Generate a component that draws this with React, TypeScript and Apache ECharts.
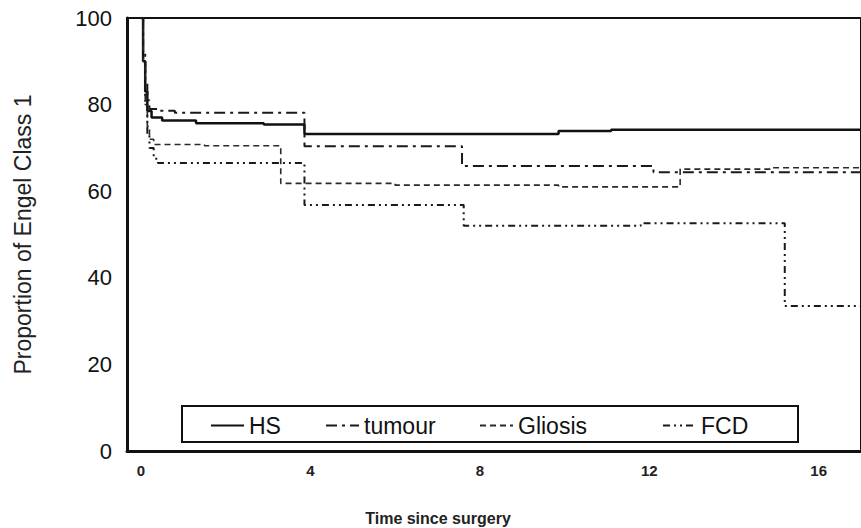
import React, { useEffect, useRef } from "react";
import * as echarts from "echarts";

const xTicks = [0, 4, 8, 12, 16];
const seriesNames = ["HS", "tumour", "Gliosis", "FCD"];

// Kaplan-Meier style step data: [time, proportion]
const hsData: [number, number][] = [
  [0, 100], [0.05, 90], [0.1, 83], [0.15, 78.5], [0.25, 77], [0.5, 76.3],
  [1.3, 75.7], [2.9, 75.4], [3.86, 73.2], [9.86, 73.9], [11.1, 74.2], [17, 74.2],
];
const tumourData: [number, number][] = [
  [0, 100], [0.05, 92], [0.1, 85], [0.15, 81], [0.2, 79], [0.4, 78.6],
  [0.8, 78.1], [3.86, 70.4], [7.58, 65.8], [12.1, 64.4], [17, 64.3],
];
const gliosisData: [number, number][] = [
  [0, 100], [0.05, 90], [0.1, 80], [0.15, 75], [0.2, 72], [0.3, 70.8],
  [1.5, 70.5], [3.3, 61.8], [6, 61.4], [9.86, 61.0], [12.73, 65.1], [14.9, 65.4], [17, 65.4],
];
const fcdData: [number, number][] = [
  [0, 100], [0.05, 90], [0.1, 80], [0.15, 73], [0.2, 70], [0.3, 67.5],
  [0.4, 66.5], [3.86, 56.8], [7.62, 52.0], [11.8, 52.6], [15.2, 33.5], [17, 33.5],
];

const FONT = "'Liberation Sans', Arial, sans-serif";

export default function App() {
  const ref = useRef<HTMLDivElement>(null);
  useEffect(() => {
    if (!ref.current) return;
    const chart = echarts.init(ref.current, undefined, { renderer: "svg" });
    const styles = [
      { color: "#111", width: 2.5, type: "solid" as any },
      { color: "#1a1a1a", width: 2, type: [11, 5, 3, 5] },
      { color: "#2a2a2a", width: 1.6, type: [6, 4] },
      { color: "#1a1a1a", width: 2, type: [7, 4, 2, 4, 2, 4] },
    ];
    const datas = [hsData, tumourData, gliosisData, fcdData];
    const legendLefts = [205, 320, 474, 657];
    chart.setOption({
      animation: false,
      backgroundColor: "#fff",
      textStyle: { fontFamily: FONT },
      grid: {
        left: 127, top: 18, bottom: 77, right: -3,
        show: true, borderColor: "#111", borderWidth: 2, backgroundColor: "#fff",
      },
      xAxis: {
        type: "value", min: -0.33, max: 17,
        axisLine: { show: true, lineStyle: { color: "#111", width: 3 } },
        axisTick: { show: false },
        splitLine: { show: false },
        axisLabel: {
          customValues: xTicks,
          fontSize: 15, fontWeight: "bold", color: "#222", margin: 12, fontFamily: FONT,
        },
      },
      yAxis: {
        type: "value", min: 0, max: 100, interval: 20,
        name: "Proportion of Engel Class 1",
        nameLocation: "middle", nameGap: 93, nameRotate: 90,
        nameTextStyle: { fontSize: 23, color: "#222", fontFamily: FONT },
        axisLine: { show: true, onZero: false, lineStyle: { color: "#111", width: 3 } },
        axisTick: { show: false },
        splitLine: { show: false },
        axisLabel: { fontSize: 22, color: "#111", margin: 15, fontFamily: FONT },
      },
      legend: seriesNames.map((n, i) => ({
        data: [n],
        left: legendLefts[i], top: 409,
        itemWidth: 33, itemHeight: 12, z: 10,
        itemStyle: { opacity: 0 },
        textStyle: { fontSize: 23, color: "#111", fontFamily: FONT },
      })),
      graphic: [
        {
          type: "rect", left: 181, top: 405, z: 5,
          shape: { width: 616, height: 36 },
          style: { fill: "#fff", stroke: "#111", lineWidth: 2 },
        },
        {
          type: "text", x: 438, y: 518, z: 5,
          style: {
            text: "Time since surgery", fontSize: 16, fontWeight: "bold",
            fill: "#222", align: "center", verticalAlign: "middle", fontFamily: FONT,
          },
        },
      ],
      series: seriesNames.map((n, i) => ({
        name: n, type: "line", step: "end", symbol: "none",
        data: datas[i],
        lineStyle: styles[i],
        itemStyle: { color: styles[i].color },
        z: 3,
      })),
    });
    return () => chart.dispose();
  }, []);
  return (
    <div
      ref={ref}
      style={{ position: "absolute", left: 0, top: 0, width: 861, height: 528 }}
    />
  );
}
